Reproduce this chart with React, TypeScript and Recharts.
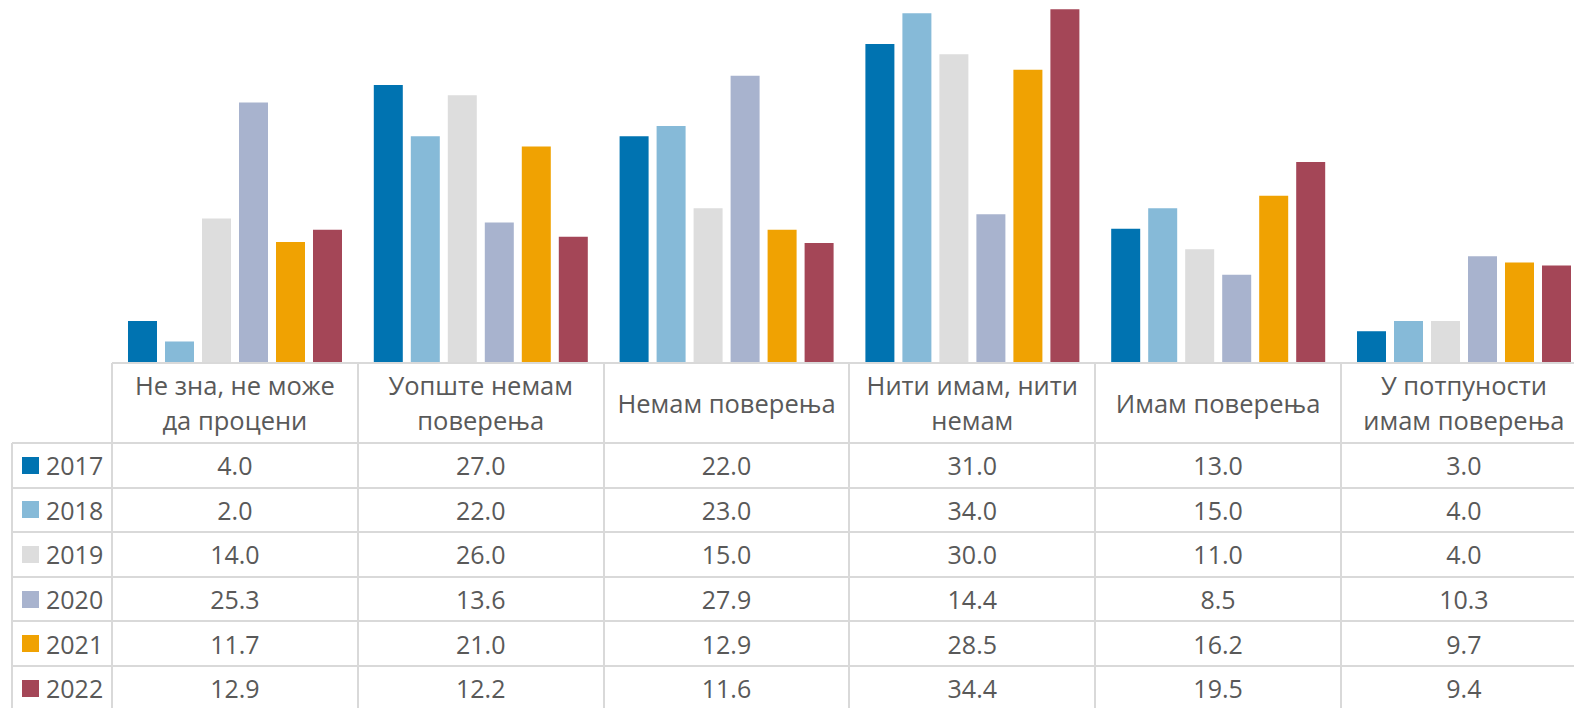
import React from 'react';
import { BarChart, Bar, XAxis, YAxis } from 'recharts';

const categoryLines: string[][] = [
  ['Не зна, не може', 'да процени'],
  ['Уопште немам', 'поверења'],
  ['Немам поверења'],
  ['Нити имам, нити', 'немам'],
  ['Имам поверења'],
  ['У потпуности', 'имам поверења'],
];
const categories = categoryLines.map((l) => l.join(' '));
const years = ['2017', '2018', '2019', '2020', '2021', '2022'];
const v2017 = [4.0, 27.0, 22.0, 31.0, 13.0, 3.0];
const v2018 = [2.0, 22.0, 23.0, 34.0, 15.0, 4.0];
const v2019 = [14.0, 26.0, 15.0, 30.0, 11.0, 4.0];
const v2020 = [25.3, 13.6, 27.9, 14.4, 8.5, 10.3];
const v2021 = [11.7, 21.0, 12.9, 28.5, 16.2, 9.7];
const v2022 = [12.9, 12.2, 11.6, 34.4, 19.5, 9.4];
const seriesValues = [v2017, v2018, v2019, v2020, v2021, v2022];
const colors = ['#0073B1', '#86BAD8', '#DDDDDD', '#A8B3CE', '#F0A202', '#A44657'];

const data = categories.map((c, i) => {
  const row: Record<string, string | number> = { category: c };
  years.forEach((y, s) => {
    row[y] = seriesValues[s][i];
  });
  return row;
});

const LEFT = 112;
const COL = 245.8;
const CHART_W = LEFT + COL * 6;
const CHART_H = 362;
const TABLE_TOP = 363;
const HEADER_H = 80;
const ROW_H = 44.6;
const LINE = '#D9D9D9';
const LW = 2;
const TEXT = '#595959';
const FONT = '"Open Sans", sans-serif';
const FS = 25;
const HFS = 25.5;

export default function App() {
  const lines: React.ReactNode[] = [];
  lines.push(
    <div key="h0" style={{ position: 'absolute', left: LEFT, top: TABLE_TOP - LW / 2, width: COL * 6, height: LW, background: LINE }} />
  );
  for (let r = 0; r <= years.length; r++) {
    const y = TABLE_TOP + HEADER_H + r * ROW_H;
    lines.push(
      <div key={'h' + (r + 1)} style={{ position: 'absolute', left: 12, top: y - LW / 2, width: CHART_W - 12, height: LW, background: LINE }} />
    );
  }
  lines.push(
    <div key="v0" style={{ position: 'absolute', left: 12 - LW / 2, top: TABLE_TOP + HEADER_H, width: LW, height: 400, background: LINE }} />
  );
  for (let c = 0; c <= 6; c++) {
    const x = LEFT + c * COL;
    lines.push(
      <div key={'v' + (c + 1)} style={{ position: 'absolute', left: x - LW / 2, top: TABLE_TOP, width: LW, height: 400, background: LINE }} />
    );
  }

  const header = categoryLines.map((l, c) => (
    <div
      key={'hd' + c}
      style={{
        position: 'absolute',
        left: LEFT + c * COL,
        top: TABLE_TOP,
        width: COL,
        height: HEADER_H,
        display: 'flex',
        flexDirection: 'column',
        alignItems: 'center',
        justifyContent: 'center',
        lineHeight: '35px',
        fontSize: HFS,
        color: TEXT,
        fontFamily: FONT,
      }}
    >
      {l.map((t, k) => (
        <div key={k} style={{ whiteSpace: 'nowrap' }}>{t}</div>
      ))}
    </div>
  ));

  const rows = years.map((y, r) => {
    const top = TABLE_TOP + HEADER_H + r * ROW_H;
    return (
      <React.Fragment key={'r' + y}>
        <div
          style={{
            position: 'absolute',
            left: 22,
            top,
            height: ROW_H,
            display: 'flex',
            alignItems: 'center',
            fontSize: FS,
            color: TEXT,
            fontFamily: FONT,
          }}
        >
          <span style={{ display: 'inline-block', width: 17, height: 17, background: colors[r], marginRight: 7 }} />
          <span>{y}</span>
        </div>
        {seriesValues[r].map((v, c) => (
          <div
            key={c}
            style={{
              position: 'absolute',
              left: LEFT + c * COL,
              top,
              width: COL,
              height: ROW_H,
              display: 'flex',
              alignItems: 'center',
              justifyContent: 'center',
              fontSize: FS,
              color: TEXT,
              fontFamily: FONT,
            }}
          >
            {v.toFixed(1)}
          </div>
        ))}
      </React.Fragment>
    );
  });

  return (
    <div
      style={{
        position: 'absolute',
        left: 0,
        top: 0,
        width: 1574,
        height: 708,
        overflow: 'hidden',
        background: '#ffffff',
      }}
    >
      <div style={{ position: 'absolute', left: 0, top: 0 }}>
        <BarChart
          width={CHART_W}
          height={CHART_H}
          data={data}
          margin={{ top: 3, right: 0, left: LEFT, bottom: 0 }}
          barSize={29}
          barGap={8}
        >
          <XAxis dataKey="category" hide />
          <YAxis hide domain={[0, 35]} />
          {years.map((y, s) => (
            <Bar key={y} dataKey={y} fill={colors[s]} isAnimationActive={false} />
          ))}
        </BarChart>
      </div>
      {lines}
      {header}
      {rows}
    </div>
  );
}
